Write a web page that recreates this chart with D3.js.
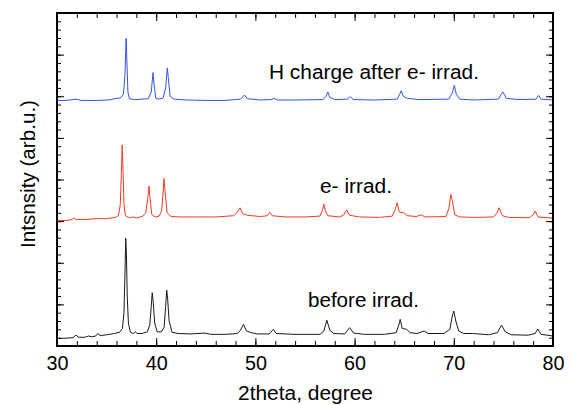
<!DOCTYPE html>
<html><head><meta charset="utf-8">
<script src="https://cdn.jsdelivr.net/npm/d3@7"></script>
<style>html,body{margin:0;padding:0;background:#fff;}svg{display:block;}</style>
</head><body>
<svg id="c" width="570" height="405"></svg>
<script>
// ---- data (2theta in degrees, intensity in arbitrary units, offset traces) ----
const xTicks = [30, 40, 50, 60, 70, 80];
const seriesLabels = ["H charge after e- irrad.", "e- irrad.", "before irrad."];
const seriesColors = ["#3153ea", "#f23b22", "#1a1a1a"];

const beforeIrrad = [[30,0.18],[31.0,0.19],[31.6,0.2],[31.9,0.26],[32.2,0.21],[32.8,0.21],[33.2,0.24],[33.5,0.22],[33.9,0.24],[34.1,0.30],[34.35,0.25],[35.0,0.27],[35.8,0.30],[36.3,0.33],[36.6,0.42],[36.75,0.8],[36.85,1.7],[36.93,2.59],[37.0,2.2],[37.08,1.2],[37.2,0.55],[37.4,0.33],[37.7,0.30],[37.9,0.34],[38.1,0.30],[38.6,0.30],[39.1,0.34],[39.35,0.5],[39.5,0.95],[39.6,1.28],[39.7,1.05],[39.85,0.55],[40.1,0.34],[40.5,0.34],[40.8,0.45],[40.95,0.95],[41.06,1.34],[41.15,1.15],[41.3,0.6],[41.6,0.33],[42.2,0.30],[43.5,0.29],[44.9,0.31],[45.5,0.28],[47.0,0.28],[48.2,0.30],[48.5,0.38],[48.8,0.52],[49.1,0.36],[49.6,0.32],[50.2,0.29],[51.4,0.29],[51.8,0.40],[52.1,0.30],[54.0,0.28],[56.5,0.28],[56.9,0.36],[57.2,0.62],[57.5,0.38],[57.9,0.30],[59.0,0.29],[59.5,0.44],[59.9,0.31],[61,0.28],[63.0,0.28],[64.2,0.32],[64.45,0.5],[64.6,0.64],[64.8,0.42],[65.25,0.40],[65.6,0.32],[66.3,0.30],[67.0,0.36],[67.4,0.30],[69.0,0.30],[69.6,0.40],[69.85,0.72],[70.0,0.84],[70.2,0.6],[70.5,0.36],[71.0,0.30],[71.9,0.30],[73.5,0.27],[74.4,0.32],[74.8,0.50],[75.2,0.34],[75.8,0.27],[77.5,0.26],[78.2,0.30],[78.45,0.41],[78.8,0.28],[80,0.24]];

const eIrrad = [[30,3.01],[31.2,3.02],[31.55,3.05],[31.7,3.08],[31.9,3.04],[33,3.04],[34,3.06],[35,3.06],[35.9,3.09],[36.2,3.14],[36.38,3.4],[36.48,4.1],[36.57,4.83],[36.65,4.3],[36.75,3.4],[36.9,3.13],[37.3,3.08],[37.6,3.10],[38.0,3.08],[38.6,3.11],[38.95,3.2],[39.15,3.55],[39.27,3.84],[39.38,3.55],[39.55,3.16],[39.9,3.10],[40.3,3.12],[40.55,3.25],[40.7,3.7],[40.79,4.03],[40.9,3.7],[41.1,3.2],[41.5,3.11],[42.5,3.10],[44,3.10],[46,3.10],[47.8,3.13],[48.2,3.22],[48.45,3.32],[48.7,3.18],[49.2,3.14],[50.5,3.11],[51.2,3.13],[51.45,3.21],[51.7,3.13],[53,3.10],[55,3.10],[56.5,3.12],[56.75,3.26],[56.9,3.41],[57.05,3.25],[57.3,3.13],[58.5,3.10],[58.9,3.15],[59.2,3.27],[59.5,3.14],[60.5,3.10],[62.5,3.09],[63.8,3.12],[64.1,3.28],[64.3,3.44],[64.5,3.22],[64.95,3.20],[65.3,3.13],[66.2,3.11],[66.7,3.15],[67.1,3.10],[69.2,3.11],[69.5,3.3],[69.7,3.64],[69.85,3.5],[70.1,3.15],[70.6,3.10],[72,3.09],[74.0,3.10],[74.35,3.2],[74.56,3.32],[74.9,3.13],[75.5,3.09],[77.6,3.08],[78.0,3.15],[78.2,3.24],[78.5,3.10],[80,3.07]];

const hChargeAfterE = [[30,5.90],[31.0,5.90],[31.6,5.92],[32.0,5.93],[32.4,5.90],[34,5.90],[35.2,5.91],[35.8,5.94],[36.4,5.96],[36.7,6.05],[36.85,6.5],[36.97,7.39],[37.05,6.8],[37.15,6.1],[37.3,5.94],[37.8,5.92],[38.6,5.93],[39.2,5.94],[39.5,6.1],[39.68,6.57],[39.78,6.3],[39.95,5.95],[40.3,5.93],[40.7,5.96],[40.95,6.2],[41.12,6.68],[41.22,6.45],[41.4,6.0],[41.8,5.93],[43,5.91],[45,5.90],[47,5.90],[48.5,5.93],[48.9,6.03],[49.2,5.94],[50.5,5.91],[51.6,5.92],[51.85,5.95],[52.2,5.91],[54,5.91],[56.8,5.92],[57.1,5.99],[57.3,6.10],[57.5,5.97],[58,5.92],[59.3,5.93],[59.55,5.99],[59.9,5.92],[62,5.91],[64.3,5.93],[64.55,6.05],[64.7,6.13],[64.9,6.0],[65.3,5.95],[66.5,5.92],[69.5,5.93],[69.85,6.08],[70.05,6.26],[70.25,6.05],[70.6,5.93],[72,5.91],[74.5,5.93],[74.8,6.05],[74.96,6.10],[75.3,5.95],[76.5,5.92],[78.3,5.93],[78.55,6.02],[78.8,5.93],[80,5.91]];

const series = [hChargeAfterE, eIrrad, beforeIrrad];

// ---- layout ----
const L = 57, R = 553, T = 13, B = 346;
const FONT = "Liberation Sans, Arial, sans-serif";
const FS = 20;
const svg = d3.select("#c");
const x = d3.scaleLinear().domain([30, 80]).range([L, R]);
const y = d3.scaleLinear().domain([0, 8]).range([B, T]);

const minorX = d3.range(30, 80.01, 2);
const minorY = d3.range(0, 8.01, 0.2);
const majorY = d3.range(0, 8.01, 1);

// ticks (inward)
function tickAxis(axisFn, scale, vals, size, tx, ty) {
  const g = svg.append("g").attr("transform", `translate(${tx},${ty})`)
    .call(axisFn(scale).tickValues(vals).tickSize(size).tickFormat(""));
  g.select(".domain").remove();
  g.selectAll("line").attr("stroke", "#000").attr("stroke-width", 1);
  return g;
}
tickAxis(d3.axisBottom, x, minorX, -5, 0, B);
tickAxis(d3.axisTop, x, minorX, -5, 0, T);
tickAxis(d3.axisBottom, x, xTicks, -8, 0, B);
tickAxis(d3.axisTop, x, xTicks, -8, 0, T);
tickAxis(d3.axisLeft, y, minorY, -4, L, 0);
tickAxis(d3.axisRight, y, minorY, -4, R, 0);
tickAxis(d3.axisLeft, y, majorY, -7, L, 0);
tickAxis(d3.axisRight, y, majorY, -7, R, 0);

// x labels
const xl = svg.append("g").attr("transform", `translate(0,${B})`)
  .call(d3.axisBottom(x).tickValues(xTicks).tickSize(0).tickPadding(10).tickFormat(d3.format("d")));
xl.select(".domain").remove();
xl.selectAll("text").attr("font-family", FONT).attr("font-size", FS).attr("fill", "#000")
  .attr("textLength", 22).attr("lengthAdjust", "spacingAndGlyphs");

// lines
const line = d3.line().x(d => x(d[0])).y(d => y(d[1]));
series.forEach((s, i) => {
  svg.append("path").datum(s).attr("d", line)
    .attr("fill", "none").attr("stroke", seriesColors[i]).attr("stroke-width", 1)
    .attr("stroke-linejoin", "round");
});

// frame
svg.append("rect").attr("x", L).attr("y", T).attr("width", R - L).attr("height", B - T)
  .attr("fill", "none").attr("stroke", "#000").attr("stroke-width", 2);

// series labels
const labelPos = [[269, 79, 210], [320, 193, 72], [308, 307, 111]];
seriesLabels.forEach((t, i) => {
  svg.append("text").attr("x", labelPos[i][0]).attr("y", labelPos[i][1])
    .attr("font-family", FONT).attr("font-size", FS)
    .attr("textLength", labelPos[i][2]).attr("lengthAdjust", "spacingAndGlyphs")
    .attr("fill", "#000").text(t);
});

// axis titles
svg.append("text").attr("x", 238).attr("y", 400)
  .attr("textLength", 135).attr("lengthAdjust", "spacingAndGlyphs")
  .attr("font-family", FONT).attr("font-size", FS).text("2theta, degree");
svg.append("text").attr("transform", "translate(35,248) rotate(-90)")
  .attr("textLength", 148).attr("lengthAdjust", "spacingAndGlyphs")
  .attr("font-family", FONT).attr("font-size", FS).text("Intsnsity (arb.u.)");
</script>
</body></html>
